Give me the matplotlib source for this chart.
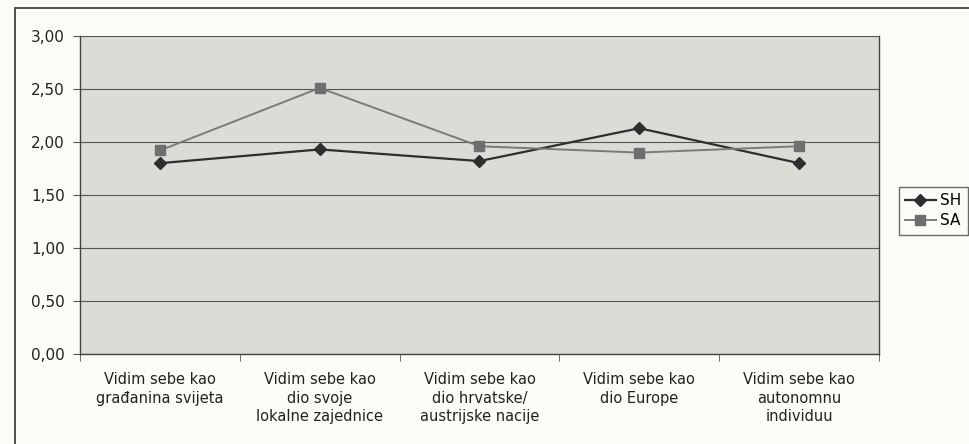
import matplotlib
matplotlib.use("Agg")
import matplotlib.pyplot as plt
from matplotlib.patches import Rectangle
import numpy as np

categories = [
    "Vidim sebe kao\ngrađanina svijeta",
    "Vidim sebe kao\ndio svoje\nlokalne zajednice",
    "Vidim sebe kao\ndio hrvatske/\naustrijske nacije",
    "Vidim sebe kao\ndio Europe",
    "Vidim sebe kao\nautonomnu\nindividuu",
]
sh_values = [1.80, 1.93, 1.82, 2.13, 1.80]
sa_values = [1.92, 2.51, 1.96, 1.90, 1.96]
y_ticks = [0.0, 0.5, 1.0, 1.5, 2.0, 2.5, 3.0]
y_tick_labels = ["0,00", "0,50", "1,00", "1,50", "2,00", "2,50", "3,00"]

W, H = 970, 444
fig = plt.figure(figsize=(W / 100, H / 100), dpi=100)
fig.patch.set_facecolor("#fbfbf7")
plt.rcParams['font.family'] = ['DejaVu Sans']

# outer chart border (extends past right/bottom edges)
fig.patches.append(Rectangle((15 / W, -0.05), 1.2, (H - 8) / H + 0.05,
                             transform=fig.transFigure, fill=False,
                             edgecolor="#333333", linewidth=1.2))

ax = fig.add_axes([80 / W, (H - 354) / H, (879 - 80) / W, (354 - 36) / H])
ax.set_facecolor("#dcdcd7")

x = np.arange(len(categories))
ax.plot(x, sh_values, color="#2e2e2e", linewidth=1.6, marker="D",
        markersize=6.5, markerfacecolor="#2e2e2e", markeredgecolor="#2e2e2e",
        label="SH", zorder=3)
ax.plot(x, sa_values, color="#7a7a7a", linewidth=1.4, marker="s",
        markersize=7, markerfacecolor="#6e6e6e", markeredgecolor="#6e6e6e",
        label="SA", zorder=3)

ax.set_xlim(-0.5, len(categories) - 0.5)
ax.set_ylim(0, 3.0)
ax.set_yticks(y_ticks)
ax.set_yticklabels(y_tick_labels, fontsize=11, color="#222222")
ax.yaxis.grid(True, color="#555555", linewidth=0.8)
ax.set_axisbelow(True)

ax.set_xticks(x)
ax.set_xticklabels(categories, fontsize=10.5, color="#222222", linespacing=1.3)
ax.set_xticks(np.arange(-0.5, len(categories)), minor=True)
ax.tick_params(axis="x", which="major", length=0, pad=13)
ax.tick_params(axis="x", which="minor", length=5, color="#555555", direction="out")
ax.tick_params(axis="y", length=5, color="#555555", direction="out", pad=6)

for side in ["left", "bottom"]:
    ax.spines[side].set_color("#444444")
    ax.spines[side].set_linewidth(1.0)
ax.spines["top"].set_visible(False)
ax.spines["right"].set_color("#444444")
ax.spines["right"].set_linewidth(1.0)

leg = fig.legend(loc="upper left", bbox_to_anchor=(899 / W, (H - 187) / H),
                 fontsize=11, frameon=True, fancybox=False, borderpad=0.4,
                 handlelength=2.0, labelspacing=0.35, handletextpad=0.3,
                 borderaxespad=0)
leg.get_frame().set_edgecolor("#444444")
leg.get_frame().set_facecolor("#fbfbf7")
leg.get_frame().set_linewidth(1.0)

fig.savefig("out.png", dpi=100, facecolor=fig.get_facecolor())
